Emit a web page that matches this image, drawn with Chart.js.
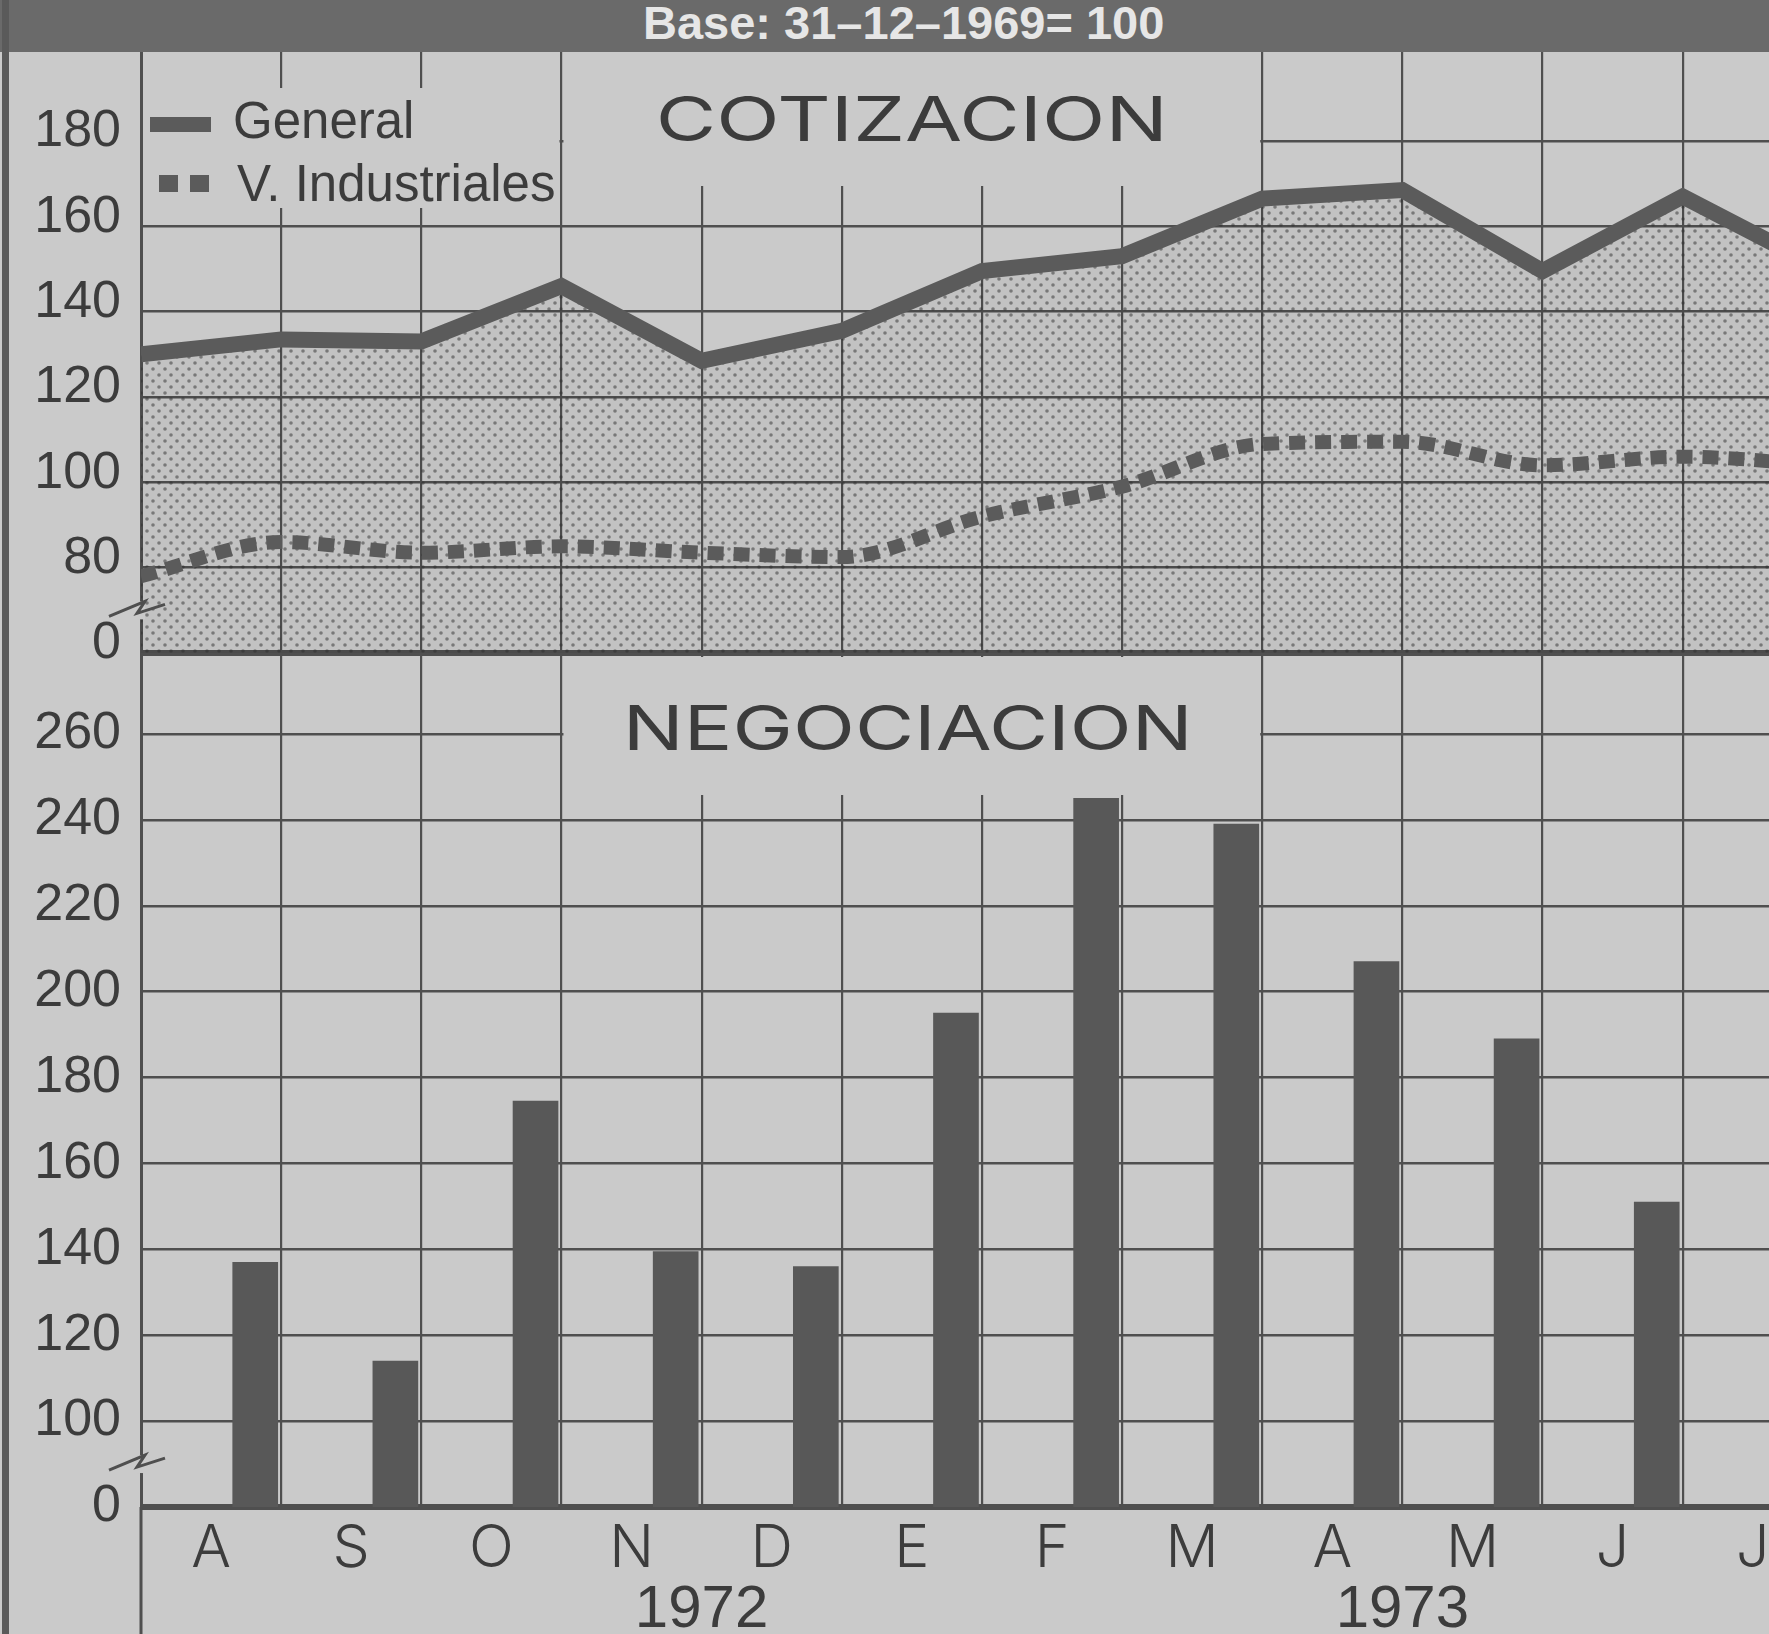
<!DOCTYPE html>
<html><head><meta charset="utf-8">
<script src="https://cdn.jsdelivr.net/npm/chart.js"></script>
<style>
html,body{margin:0;padding:0;background:#cacaca;overflow:hidden;}
#wrap{position:absolute;left:0;top:0;width:1769px;height:1634px;}
#band{position:absolute;left:0;top:0;width:1769px;height:52px;background:#6a6a6a;color:#e6e6e6;font:bold 47px "Liberation Sans",Arial,sans-serif;line-height:52px;overflow:hidden;}
#band span{position:absolute;left:643px;top:-3px;}
#frame{position:absolute;left:2px;top:0;width:7px;height:1634px;background:#5a5a5a;}
</style></head>
<body>
<div id="wrap"><canvas id="c"></canvas></div>
<div id="band"><span>Base: 31–12–1969= 100</span></div>
<div id="frame"></div>
<script>
// ---- data ----
const MONTHS = ['A','S','O','N','D','E','F','M','A','M','J','J'];
const YEARS = ['1972','1973'];
const YEAR_TICKS = [4, 9];
// index values at month boundaries (start of Aug 1972 ... end of Jul 1973)
const GENERAL = [130, 133.5, 133, 146, 128.5, 135.5, 149.5, 153, 166.5, 168.5, 149.5, 167, 150];
const INDUSTRIALES = [78, 86, 83.5, 85, 83.5, 82.5, 92, 99, 109, 109.5, 104, 106, 104];
// monthly trading volume
const NEGOCIACION = [137, 114, 174.5, 139.5, 136, 195, 245, 239, 207, 189, 151, null];
const TOP_TICKS = [0, 80, 100, 120, 140, 160, 180];
const BOTTOM_TICKS = [0, 100, 120, 140, 160, 180, 200, 220, 240, 260];

// ---- styles / layout ----
const PAPER = '#cacaca', INK = '#3c3c3c', GRID = '#4f4f4f', LINE = '#5b5b5b', BAR = '#585858';
const X_MAX = 11.616;
const BAR_POS = 0.815;
const TOP_BREAK = 60, BOTTOM_BREAK = 80;
const TICK_FONT = {family: '"Liberation Sans", Arial, sans-serif', size: 52};

const canvas = document.getElementById('c');
const ctx0 = canvas.getContext('2d');

function dotPattern() {
  const c = document.createElement('canvas');
  c.width = 12; c.height = 12;
  const g = c.getContext('2d');
  g.fillStyle = 'rgba(0,0,0,0.04)';
  g.fillRect(0, 0, 12, 12);
  g.fillStyle = 'rgba(45,45,45,0.5)';
  [[3, 3], [9, 9]].forEach(([x, y]) => { g.beginPath(); g.arc(x, y, 1.8, 0, Math.PI * 2); g.fill(); });
  return ctx0.createPattern(c, 'repeat');
}

function stretchedText(ctx, text, cx, baseline, targetW, font) {
  ctx.save();
  ctx.font = font;
  const w = ctx.measureText(text).width;
  ctx.translate(cx, baseline);
  ctx.scale(targetW / w, 1);
  ctx.textAlign = 'center';
  ctx.textBaseline = 'alphabetic';
  ctx.fillStyle = INK;
  ctx.fillText(text, 0, 0);
  ctx.restore();
}

function breakMark(ctx, x, y) {
  ctx.save();
  ctx.fillStyle = PAPER;
  ctx.fillRect(x - 4, y - 9, 8, 18);
  ctx.strokeStyle = GRID;
  ctx.lineWidth = 3;
  ctx.lineJoin = 'miter';
  ctx.beginPath();
  ctx.moveTo(x - 32, y + 6);
  ctx.lineTo(x + 4, y - 9);
  ctx.lineTo(x - 4, y + 3);
  ctx.lineTo(x + 24, y - 6);
  ctx.stroke();
  ctx.restore();
}

const decor = {
  id: 'decor',
  beforeDatasetsDraw(chart) {
    const {ctx, chartArea: a, scales} = chart;
    const x = scales.xGrid, yT = scales.yT;
    const b3 = x.getPixelForValue(3), b8 = x.getPixelForValue(8);
    ctx.save();
    ctx.fillStyle = PAPER;
    ctx.fillRect(b3 + 2, a.top, b8 - b3 - 4, 134);
    ctx.fillRect(a.left + 2, 88, b3 - a.left - 4, 120);
    ctx.fillRect(b3 + 2, yT.bottom + 4, b8 - b3 - 4, 138);
    ctx.restore();
  },
  afterDatasetsDraw(chart) {
    const {ctx, chartArea: a, scales} = chart;
    const x = scales.xGrid, yT = scales.yT, yB = scales.yB;
    const b3 = x.getPixelForValue(3), b8 = x.getPixelForValue(8);
    const cx = (b3 + b8) / 2;
    stretchedText(ctx, 'COTIZACION', cx, 141, 512, '400 62px Inter, "DejaVu Sans", sans-serif');
    stretchedText(ctx, 'NEGOCIACION', cx - 4, 750, 570, '400 62px Inter, "DejaVu Sans", sans-serif');
    // legend
    ctx.save();
    ctx.fillStyle = LINE;
    ctx.fillRect(150, 117, 61, 15);
    ctx.fillRect(159, 175, 19, 17);
    ctx.fillRect(190, 175, 19, 17);
    ctx.fillStyle = INK;
    ctx.font = '51px "Liberation Sans", Arial, sans-serif';
    ctx.textBaseline = 'alphabetic';
    ctx.textAlign = 'left';
    ctx.fillText('General', 233, 138);
    ctx.fillText('V. Industriales', 237, 201);
    // axis continues below
    ctx.fillStyle = GRID;
    ctx.fillRect(a.left - 1.5, a.bottom, 3, chart.height - a.bottom);
    ctx.restore();
    breakMark(ctx, a.left, (yT.getPixelForValue(80) + yT.getPixelForValue(TOP_BREAK)) / 2);
    breakMark(ctx, a.left, (yB.getPixelForValue(100) + yB.getPixelForValue(BOTTOM_BREAK)) / 2);
  }
};

function zeroPad(s) { s.paddingLeft = 0; s.paddingRight = 0; s.paddingTop = 0; s.paddingBottom = 0; }

new Chart(canvas, {
  type: 'line',
  data: {
    datasets: [
      {
        type: 'line', label: 'General',
        data: GENERAL.map((v, i) => ({x: i, y: v})),
        xAxisID: 'xGrid', yAxisID: 'yT',
        borderColor: LINE, borderWidth: 16, borderJoinStyle: 'miter',
        pointRadius: 0, tension: 0,
        fill: 'start', backgroundColor: dotPattern(), order: 2
      },
      {
        type: 'line', label: 'V. Industriales',
        data: INDUSTRIALES.map((v, i) => ({x: i, y: v})),
        xAxisID: 'xGrid', yAxisID: 'yT',
        borderColor: LINE, borderWidth: 14, borderDash: [16, 10],
        pointRadius: 0, cubicInterpolationMode: 'monotone',
        fill: false, order: 1
      },
      {
        type: 'bar', label: 'Negociación',
        data: NEGOCIACION.map((v, i) => ({x: i + BAR_POS, y: v})),
        xAxisID: 'xGrid', yAxisID: 'yB',
        backgroundColor: BAR, borderWidth: 0, barThickness: 45, order: 3
      }
    ]
  },
  options: {
    responsive: true, maintainAspectRatio: false, animation: false, devicePixelRatio: 1,
    layout: {padding: {top: 52, left: 0, right: 0, bottom: 0}},
    plugins: {legend: {display: false}, tooltip: {enabled: false}, title: {display: false}},
    scales: {
      yT: {
        type: 'linear', position: 'left', stack: 'panels', stackWeight: 601, weight: 2,
        min: TOP_BREAK, max: 200.86, offset: false, beginAtZero: false,
        afterBuildTicks: s => { s.ticks = TOP_TICKS.map(v => ({value: v === 0 ? TOP_BREAK : v})); },
        afterFit: s => { s.width = 141; zeroPad(s); },
        grid: {offset: false, color: GRID, lineWidth: c => (c.tick && c.tick.value === TOP_BREAK) ? 6 : 2.5, drawTicks: false},
        border: {display: true, color: GRID, width: 3},
        ticks: {autoSkip: false, padding: 20, labelOffset: -9, font: TICK_FONT, color: INK, callback: (v, i) => String(TOP_TICKS[i])}
      },
      yB: {
        type: 'linear', position: 'left', stack: 'panels', stackWeight: 854, weight: 1,
        min: BOTTOM_BREAK, max: 278.86, offset: false, beginAtZero: false,
        afterBuildTicks: s => { s.ticks = BOTTOM_TICKS.map(v => ({value: v === 0 ? BOTTOM_BREAK : v})); },
        afterFit: s => { s.width = 141; zeroPad(s); },
        grid: {offset: false, color: GRID, lineWidth: c => (c.tick && c.tick.value === BOTTOM_BREAK) ? 6 : 2.5, drawTicks: false},
        border: {display: true, color: GRID, width: 3},
        ticks: {autoSkip: false, padding: 20, labelOffset: 0, font: TICK_FONT, color: INK, callback: (v, i) => String(BOTTOM_TICKS[i])}
      },
      xGrid: {
        type: 'linear', position: 'bottom', min: 0, max: X_MAX, weight: 0, offset: false,
        afterBuildTicks: s => { s.ticks = MONTHS.map((m, i) => ({value: i})); },
        afterFit: s => { s.height = 0; zeroPad(s); },
        grid: {offset: false, color: GRID, lineWidth: 2.2, drawTicks: false},
        border: {display: false},
        ticks: {display: false, autoSkip: false}
      },
      xMonth: {
        type: 'linear', position: 'bottom', min: 0, max: X_MAX, weight: 1, offset: false,
        afterBuildTicks: s => { s.ticks = MONTHS.map((m, i) => ({value: i + 0.5})); },
        afterFit: s => { s.height = 70; zeroPad(s); },
        grid: {display: false, offset: false, drawTicks: false},
        border: {display: false},
        ticks: {autoSkip: false, maxRotation: 0, minRotation: 0, padding: 13, color: INK,
          font: {family: 'Inter, "DejaVu Sans", sans-serif', size: 59, weight: 300, lineHeight: 1},
          callback: (v, i) => MONTHS[i]}
      },
      xYear: {
        type: 'linear', position: 'bottom', min: 0, max: X_MAX, weight: 2, offset: false,
        afterBuildTicks: s => { s.ticks = YEAR_TICKS.map(v => ({value: v})); },
        afterFit: s => { s.height = 57; zeroPad(s); },
        grid: {display: false, offset: false, drawTicks: false},
        border: {display: false},
        ticks: {autoSkip: false, maxRotation: 0, minRotation: 0, padding: 3, color: INK,
          font: {family: '"Liberation Sans", Arial, sans-serif', size: 60, lineHeight: 1},
          callback: (v, i) => YEARS[i]}
      }
    }
  },
  plugins: [decor]
});
</script>
</body></html>
